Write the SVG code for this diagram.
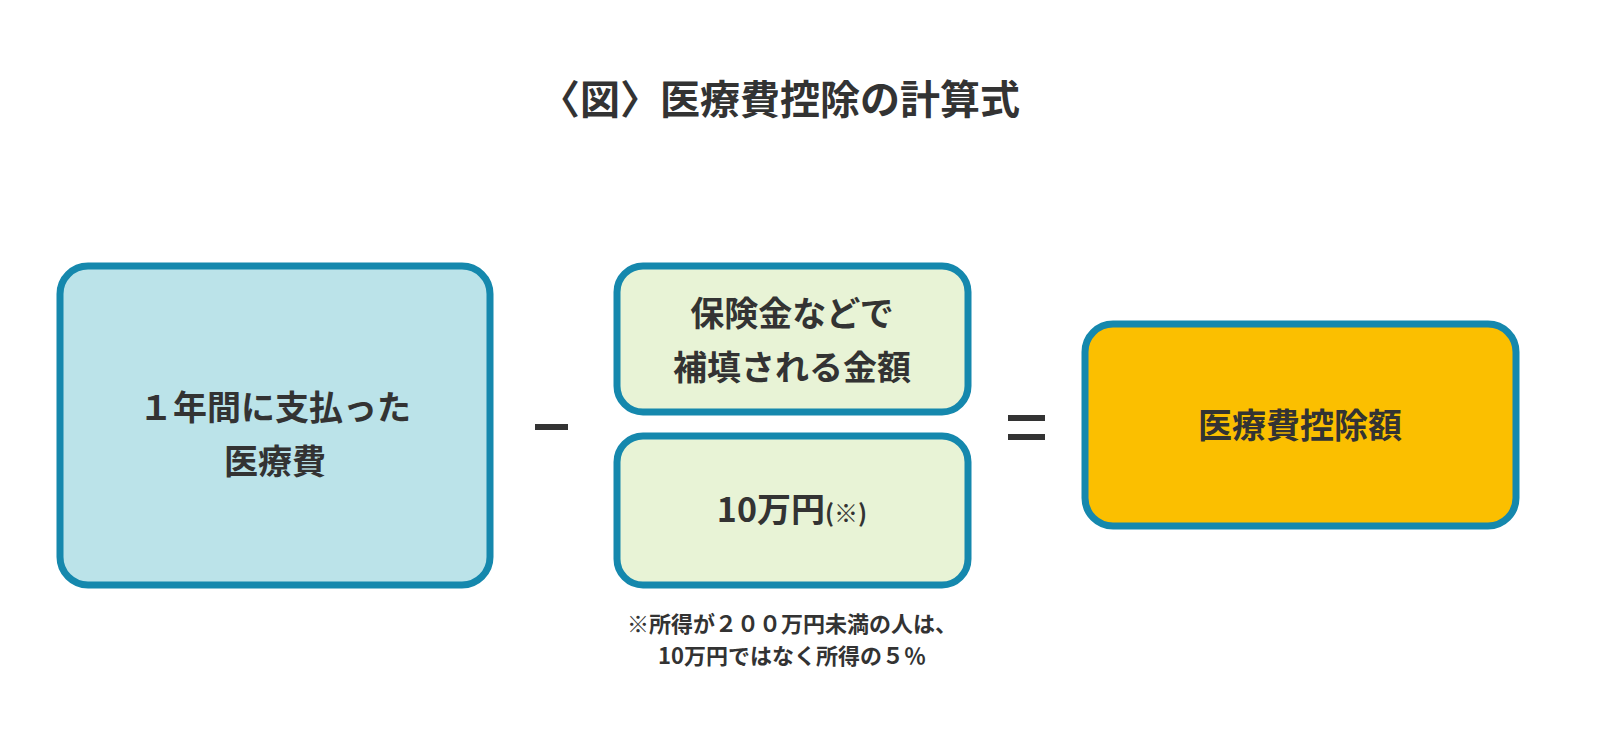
<svg xmlns="http://www.w3.org/2000/svg" width="1600" height="755" viewBox="0 0 1600 755">
<style>
text{font-family:"Noto Sans CJK JP","Noto Sans",sans-serif;font-weight:bold;fill:#333;text-anchor:middle}
.b{stroke:#1588ad;stroke-width:7}
.t{font-size:34px}
</style>
<rect width="1600" height="755" fill="#fff"/>
<text x="780" y="114" font-size="40">〈図〉医療費控除の計算式</text>
<g id="n1"><rect class="b" x="60" y="266" width="430" height="319" rx="28" fill="#bbe3e9"/>
<text class="t" x="275" y="420">１年間に支払った</text><text class="t" x="275" y="474">医療費</text></g>
<g id="n2"><rect class="b" x="617" y="266" width="351" height="146" rx="26" fill="#e8f3d6"/>
<text class="t" x="792" y="326">保険金などで</text><text class="t" x="792" y="380">補填される金額</text></g>
<g id="n3"><rect class="b" x="617" y="436" width="351" height="149" rx="26" fill="#e8f3d6"/>
<text class="t" x="792" y="522">10万円<tspan font-size="24">(※)</tspan></text></g>
<g id="n4"><rect class="b" x="1085" y="324" width="431" height="202" rx="28" fill="#fbbf00"/>
<text class="t" x="1300" y="438">医療費控除額</text></g>
<g id="ops"><rect x="535" y="424" width="33" height="6" fill="#333"/>
<rect x="1008" y="415" width="37" height="6" fill="#333"/><rect x="1008" y="434" width="37" height="6" fill="#333"/></g>
<text x="792" y="632" font-size="22">※所得が２００万円未満の人は、</text>
<text x="792" y="664" font-size="22">10万円ではなく所得の５％</text>
</svg>
